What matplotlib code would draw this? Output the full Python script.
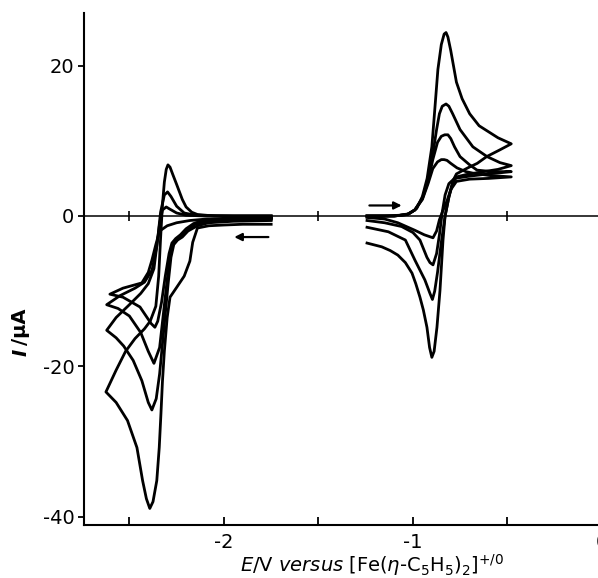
import matplotlib
matplotlib.use("Agg")
import matplotlib.pyplot as plt

plt.rcParams['axes.unicode_minus'] = False
plt.rcParams['font.family'] = ['DejaVu Sans']

# Cathodic couple (left), four scan rates, largest first
L1_E = [-1.75, -1.90, -2.00, -2.08, -2.14, -2.165, -2.18, -2.21, -2.25, -2.285, -2.30, -2.315,
        -2.325, -2.333, -2.342, -2.355, -2.375, -2.392, -2.41, -2.43, -2.46, -2.51, -2.57, -2.624,
        -2.57, -2.52, -2.47, -2.42, -2.39, -2.36, -2.345, -2.335, -2.325, -2.315, -2.305, -2.296,
        -2.285, -2.27, -2.25, -2.22, -2.20, -2.17, -2.14, -2.05, -1.90, -1.75]
L1_I = [-1.1, -1.1, -1.2, -1.3, -1.6, -3.5, -6.0, -8.0, -9.5, -10.8, -13.5, -18.0,
        -22.0, -26.3, -30.8, -35.2, -38.0, -38.9, -37.6, -35.2, -30.8, -27.2, -24.8, -23.4,
        -20.5, -18.0, -16.3, -15.0, -14.0, -12.0, -8.0, -3.0, 1.5, 4.5, 6.2, 6.8,
        6.5, 5.5, 4.2, 2.2, 1.2, 0.5, 0.2, 0.0, 0.0, 0.0]

L2_E = [-1.75, -1.95, -2.08, -2.14, -2.19, -2.22, -2.245, -2.265, -2.28, -2.295, -2.31, -2.325,
        -2.34, -2.358, -2.381, -2.40, -2.434, -2.48, -2.53, -2.57, -2.62,
        -2.57, -2.50, -2.44, -2.40, -2.37, -2.35, -2.335, -2.315, -2.298, -2.28, -2.25, -2.21,
        -2.15, -1.95, -1.75]
L2_I = [-0.6, -0.7, -0.9, -1.3, -2.0, -2.8, -3.2, -3.8, -5.5, -9.0, -13.0, -17.0,
        -21.0, -24.3, -25.8, -24.8, -21.9, -19.2, -17.3, -16.2, -15.2,
        -13.5, -11.8, -10.3, -9.0, -7.0, -3.0, 0.5, 2.8, 3.2, 2.6, 1.3, 0.4,
        0.1, 0.0, 0.0]

L3_E = [-1.75, -1.95, -2.08, -2.15, -2.20, -2.225, -2.25, -2.27, -2.285, -2.30, -2.32, -2.34,
        -2.37, -2.40, -2.44, -2.50, -2.56, -2.62,
        -2.55, -2.47, -2.42, -2.38, -2.355, -2.34, -2.325, -2.305, -2.285, -2.25, -2.20, -2.10, -1.75]
L3_I = [-0.45, -0.5, -0.7, -1.1, -1.9, -2.6, -3.1, -3.8, -5.5, -8.5, -13.0, -17.5,
        -19.6, -18.0, -15.5, -13.3, -12.3, -11.8,
        -10.6, -9.6, -8.8, -7.2, -4.0, -1.0, 0.8, 1.2, 0.9, 0.4, 0.1, 0.0, 0.0]

L4_E = [-1.75, -1.95, -2.08, -2.16, -2.20, -2.23, -2.255, -2.275, -2.29, -2.31, -2.33, -2.35,
        -2.365, -2.385, -2.444, -2.534, -2.603,
        -2.534, -2.434, -2.40, -2.381, -2.36, -2.34, -2.30, -2.25, -2.18, -2.09, -1.90, -1.75]
L4_I = [-0.3, -0.35, -0.5, -1.0, -1.7, -2.5, -3.0, -3.6, -5.0, -8.0, -11.5, -14.0,
        -14.8, -14.3, -12.1, -10.8, -10.4,
        -9.6, -8.9, -7.5, -5.9, -3.8, -2.0, -1.3, -0.9, -0.6, -0.4, -0.3, -0.3]

# Anodic couple (right), four scan rates, largest first
R1_E = [-1.243, -1.15, -1.07, -1.02, -0.98, -0.95, -0.925, -0.90, -0.885, -0.868, -0.85, -0.835,
        -0.825, -0.815, -0.80, -0.77, -0.74, -0.70, -0.65, -0.60, -0.55, -0.48,
        -0.54, -0.61, -0.66, -0.71, -0.77, -0.79, -0.81, -0.83, -0.841, -0.857, -0.873, -0.888,
        -0.90, -0.912, -0.926, -0.945, -0.963, -0.985, -1.005, -1.04, -1.08, -1.12, -1.165, -1.243]
R1_I = [0.0, 0.0, 0.1, 0.3, 1.0, 2.6, 5.0, 9.2, 14.0, 19.5, 22.8, 24.2,
        24.4, 23.8, 22.0, 17.8, 15.6, 13.6, 12.0, 11.2, 10.4, 9.6,
        8.8, 7.9, 7.0, 6.4, 5.6, 4.6, 2.5, 0.0, -3.2, -9.9, -14.8, -18.0,
        -18.8, -17.5, -14.8, -12.5, -10.8, -9.0, -7.6, -6.2, -5.2, -4.6, -4.1, -3.6]

R2_E = [-1.243, -1.10, -1.03, -0.99, -0.95, -0.92, -0.895, -0.875, -0.86, -0.845, -0.825, -0.81,
        -0.79, -0.751, -0.683, -0.608, -0.54, -0.48,
        -0.55, -0.65, -0.72, -0.77, -0.79, -0.81, -0.83, -0.85, -0.87, -0.885, -0.897, -0.91,
        -0.937, -0.989, -1.04, -1.13, -1.243]
R2_I = [0.0, 0.0, 0.2, 0.8, 2.4, 4.8, 8.2, 11.5, 13.6, 14.6, 14.9, 14.6,
        13.6, 11.5, 9.2, 7.9, 7.1, 6.7,
        6.2, 5.8, 5.5, 5.2, 4.3, 2.5, 0.0, -3.5, -7.5, -10.0, -11.1, -10.3,
        -8.5, -5.9, -3.2, -2.1, -1.5]

R3_E = [-1.243, -1.10, -1.03, -0.99, -0.95, -0.92, -0.895, -0.87, -0.85, -0.832, -0.815, -0.80,
        -0.78, -0.751, -0.70, -0.661, -0.58, -0.48,
        -0.60, -0.70, -0.78, -0.81, -0.83, -0.845, -0.86, -0.875, -0.894, -0.91, -0.926, -0.963,
        -1.00, -1.06, -1.15, -1.243]
R3_I = [0.0, 0.0, 0.2, 0.8, 2.3, 4.6, 7.5, 9.8, 10.6, 10.8, 10.8, 10.3,
        9.2, 7.9, 6.8, 6.1, 5.9, 5.9,
        5.6, 5.3, 5.0, 4.3, 2.8, 0.5, -2.5, -5.0, -6.5, -6.2, -5.5, -3.2,
        -2.2, -1.4, -0.9, -0.6]

R4_E = [-1.243, -1.10, -1.03, -0.99, -0.95, -0.92, -0.895, -0.87, -0.85, -0.835, -0.82, -0.80,
        -0.767, -0.72, -0.683, -0.60, -0.48,
        -0.60, -0.70, -0.77, -0.80, -0.82, -0.845, -0.86, -0.875, -0.894, -0.94, -0.99, -1.08,
        -1.15, -1.243]
R4_I = [0.0, 0.0, 0.2, 0.8, 2.2, 4.3, 6.3, 7.2, 7.5, 7.5, 7.4, 7.0,
        6.4, 5.9, 5.7, 5.4, 5.2,
        5.0, 4.9, 4.6, 3.5, 2.0, 0.5, -0.5, -2.0, -2.9, -2.5, -1.9, -0.9,
        -0.4, -0.2]

x_ticks = [-2.5, -2.0, -1.5, -1.0, -0.5, 0.0]
x_labels = ['', '-2', '', '-1', '', '0']
y_ticks = [-40, -20, 0, 20]
y_labels = ['-40', '-20', '0', '20']

fig = plt.figure(figsize=(5.98, 5.78), dpi=100)
ax = fig.add_axes([84 / 598, 53 / 578, 518 / 598, 512 / 578])

# zero-current line with its small crossing ticks
ax.axhline(0, color='black', lw=1.1, zorder=1)
ax.plot([-2.5, -1.5, -0.5], [0, 0, 0], ls='none', marker='|', ms=7, mew=1.2, color='black')

for E, I in [(L1_E, L1_I), (L2_E, L2_I), (L3_E, L3_I), (L4_E, L4_I),
             (R1_E, R1_I), (R2_E, R2_I), (R3_E, R3_I), (R4_E, R4_I)]:
    ax.plot(E, I, color='black', lw=2.0, solid_joinstyle='round')

# scan direction arrows
ax.annotate('', xy=(-1.96, -2.8), xytext=(-1.75, -2.8),
            arrowprops=dict(arrowstyle='-|>', lw=1.6, color='black', mutation_scale=11))
ax.annotate('', xy=(-1.045, 1.4), xytext=(-1.245, 1.4),
            arrowprops=dict(arrowstyle='-|>', lw=1.6, color='black', mutation_scale=11))

ax.set_xlim(-2.74, 0.0)
ax.set_ylim(-41.1, 27.0)
ax.spines['top'].set_visible(False)
ax.spines['right'].set_visible(False)
ax.spines['left'].set_linewidth(1.5)
ax.spines['bottom'].set_linewidth(1.5)

ax.set_xticks(x_ticks)
ax.set_xticklabels(x_labels)
ax.set_yticks(y_ticks)
ax.set_yticklabels(y_labels)
ax.tick_params(axis='x', direction='in', length=6, width=1.3, pad=6, labelsize=14)
ax.tick_params(axis='y', direction='out', length=4, width=1.3, pad=3, labelsize=14)

# axis titles
fig.text(21 / 598, 1 - 352 / 578, 'I', rotation=90, fontsize=14, fontweight='bold',
         fontstyle='italic', ha='center', va='center')
fig.text(21 / 598, 1 - 327 / 578, '/µA', rotation=90, fontsize=14, fontweight='bold',
         ha='center', va='center')
fig.text(240 / 598, 1 - 572 / 578,
         r'$E$/V $versus$ [Fe($\eta$-C$_5$H$_5$)$_2$]$^{+/0}$',
         fontsize=14, ha='left', va='baseline')

fig.savefig('out.png', dpi=100)
